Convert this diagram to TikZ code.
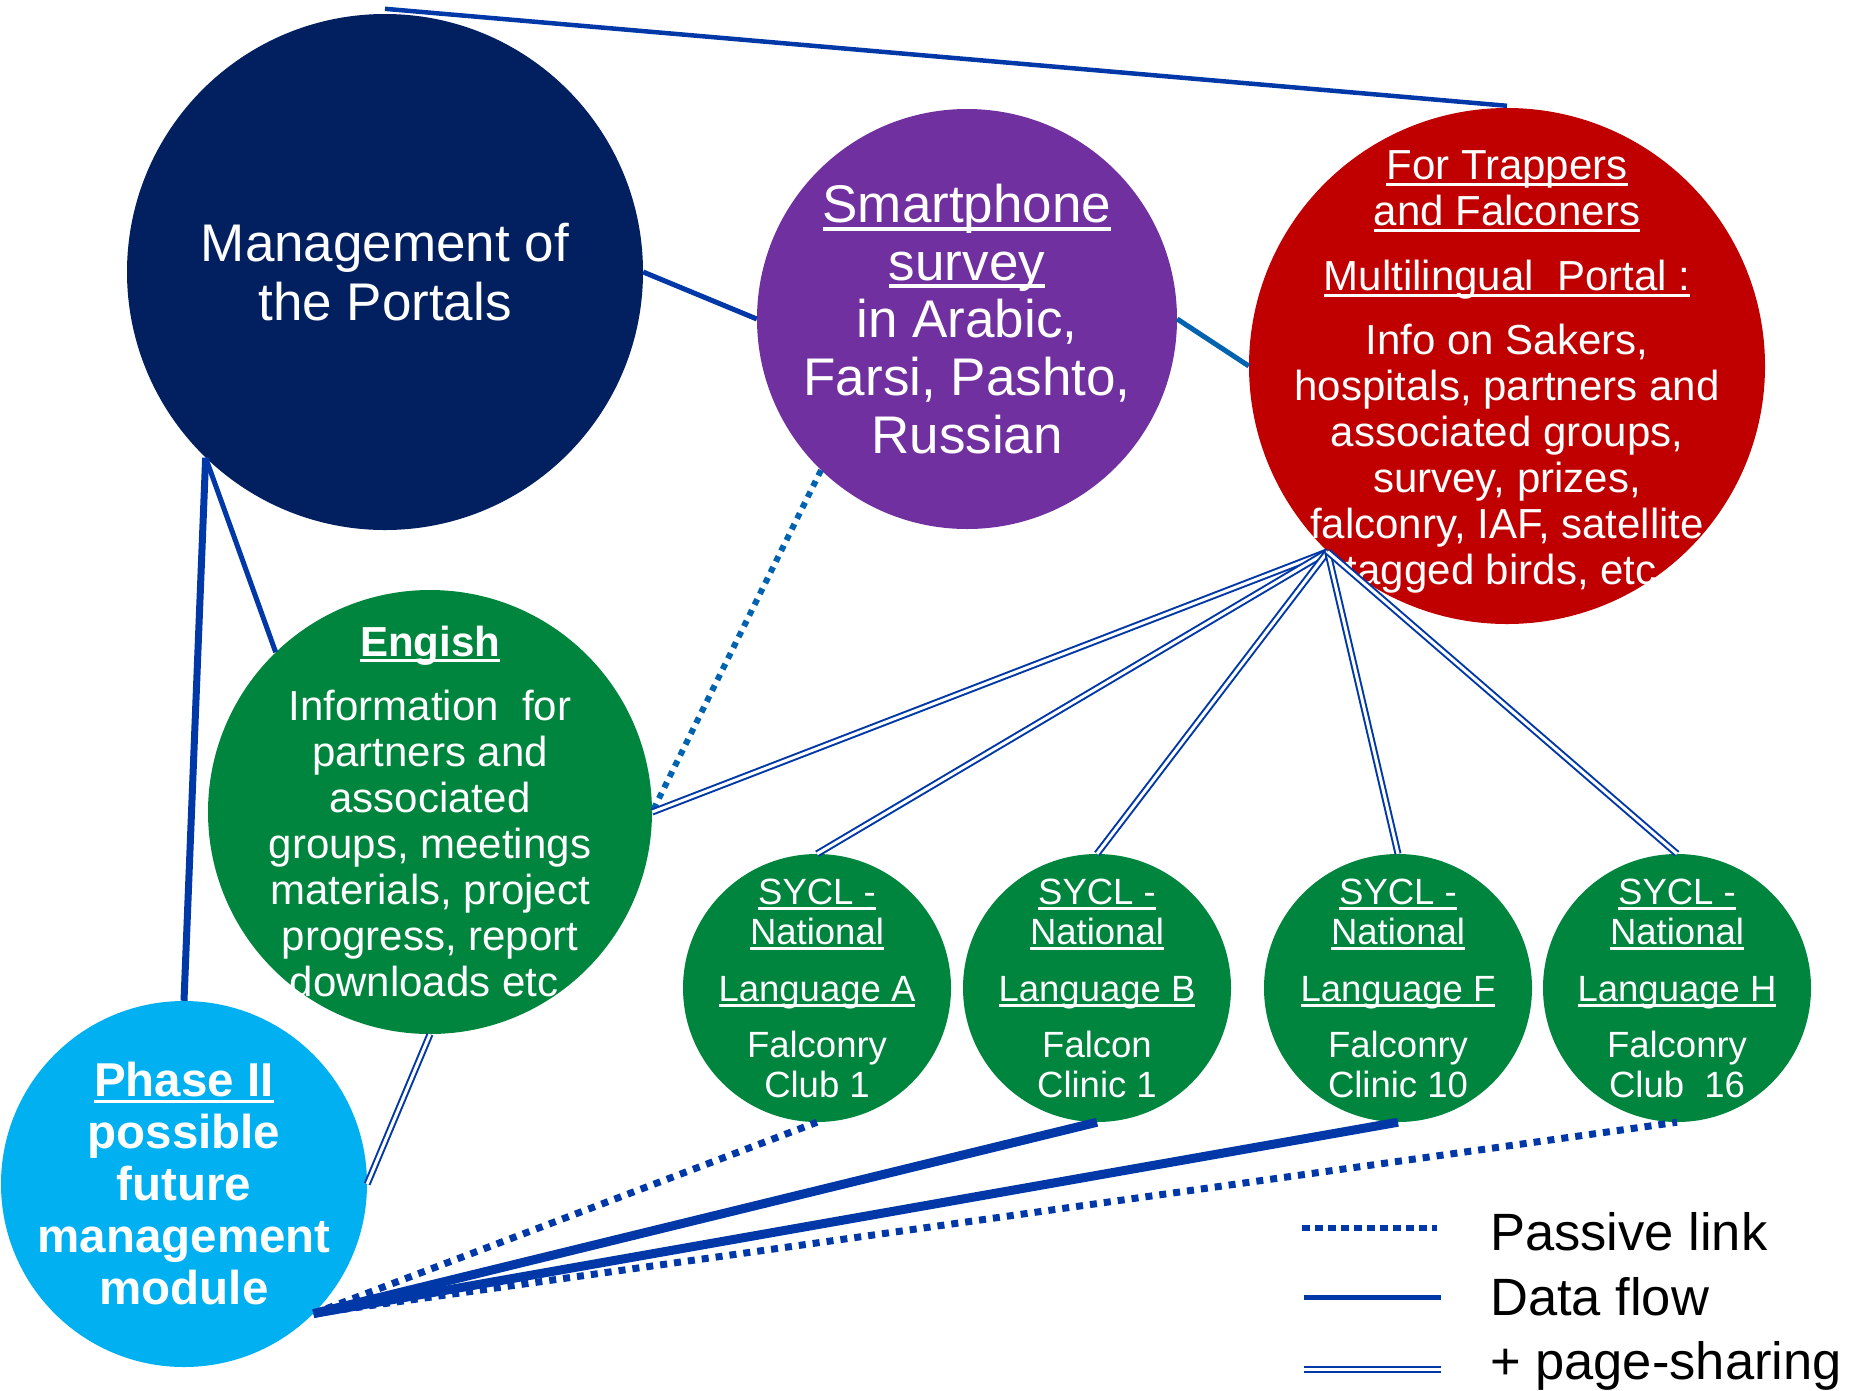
\documentclass[tikz,border=0pt]{standalone}
\usepackage{fontspec}
\setmainfont{Liberation Sans}
\definecolor{cNavy}{HTML}{022060}
\definecolor{cPurple}{HTML}{7030A0}
\definecolor{cRed}{HTML}{C00000}
\definecolor{cGreen}{HTML}{00853E}
\definecolor{cCyan}{HTML}{00B0F0}
\definecolor{cLine}{HTML}{0038A8}
\definecolor{cSteel}{HTML}{0063B0}
\newcommand\myul[1]{\leavevmode\setbox0=\hbox{#1}\rlap{\rule[-0.15em]{\wd0}{0.075em}}\box0}
\tikzset{
  circ/.style={circle, inner sep=0pt, draw=none},
  lbl/.style={text=white, align=center, inner sep=0pt},
  flow/.style={draw=cLine, line width=5pt},
  bigflow/.style={draw=cLine, line width=9pt},
  passive/.style={draw=cLine, line width=7pt, dash pattern=on 7pt off 7pt},
  share/.style={draw=cLine, double=white, line width=2pt, double distance=3pt},
  sycltxt/.style={lbl, font=\fontsize{36.5}{40}\selectfont},
  legtxt/.style={anchor=base west, inner sep=0pt, text=black, font=\fontsize{52.5}{60}\selectfont}
}
\begin{document}
\begin{tikzpicture}[x=1pt,y=-1pt]
\fill[white] (0,0) rectangle (1851,1390);
\useasboundingbox (0,0) rectangle (1851,1390);

% circles
\node[circ, fill=cNavy, minimum size=516pt] (mgmt) at (385,272) {};
\node[circ, fill=cPurple, minimum size=420pt] (smart) at (967,319) {};
\node[circ, fill=cRed, minimum size=516pt] (red) at (1507,366) {};
\node[circ, fill=cGreen, minimum size=444pt] (eng) at (430,812) {};
\node[circ, fill=cCyan, minimum size=366pt] (phase) at (184,1184) {};
\node[circ, fill=cGreen, minimum size=268pt] (A) at (817,988) {};
\node[circ, fill=cGreen, minimum size=268pt] (B) at (1097,988) {};
\node[circ, fill=cGreen, minimum size=268pt] (F) at (1398,988) {};
\node[circ, fill=cGreen, minimum size=268pt] (H) at (1677,988) {};

% texts
\node[lbl, font=\fontsize{53}{59}\selectfont] (mgmtT) at (385,272) {Management of\\the Portals};
\node[lbl, font=\fontsize{53}{57.6}\selectfont] (smartT) at (967,319) {\myul{Smartphone}\\\myul{survey}\\in Arabic,\\Farsi, Pashto,\\Russian};
\node[lbl, font=\fontsize{42}{46}\selectfont] (redT) at (1507,372) {\myul{For Trappers}\\\myul{and Falconers}\\[19pt]\myul{Multilingual\ \ Portal :}\\[18pt]Info on Sakers,\\hospitals, partners and\\associated groups,\\survey, prizes,\\falconry, IAF, satellite\\tagged birds, etc.};
\node[lbl, font=\fontsize{42}{46}\selectfont] (engT) at (430,811) {\textbf{\myul{Engish}}\\[18pt]Information\ \ for\\partners and\\associated\\groups, meetings\\materials, project\\progress, report\\downloads etc.};
\node[lbl, font=\fontsize{47.5}{52}\selectfont\bfseries] (phaseT) at (184,1183) {\myul{Phase II}\\possible\\future\\management\\module};
\node[sycltxt] (AT) at (817,988) {\myul{SYCL -}\\\myul{National}\\[17pt]\myul{Language A}\\[16pt]Falconry\\Club 1};
\node[sycltxt] (BT) at (1097,988) {\myul{SYCL -}\\\myul{National}\\[17pt]\myul{Language B}\\[16pt]Falcon\\Clinic 1};
\node[sycltxt] (FT) at (1398,988) {\myul{SYCL -}\\\myul{National}\\[17pt]\myul{Language F}\\[16pt]Falconry\\Clinic 10};
\node[sycltxt] (HT) at (1677,988) {\myul{SYCL -}\\\myul{National}\\[17pt]\myul{Language H}\\[16pt]Falconry\\Club\ \ 16};

% connectors
\draw[flow, line width=4.5pt] ([yshift=5pt]mgmt.north) -- ([yshift=2pt]red.north);
\draw[flow] (mgmt.east) -- (smart.west);
\draw[flow, draw=cSteel] (smart.east) -- (red.west);
\draw[flow] (mgmt.226) -- (eng.134);
\draw[flow, line width=7pt] (mgmt.226) -- (phase.north);
\draw[passive, draw=cSteel, line width=6pt, dash pattern=on 6pt off 6pt] (smart.226) -- (eng.east);
\draw[share] (eng.south) -- (phase.east);
\foreach \t in {eng.east, A.north, B.north, F.north, H.north}
  \draw[share] (red.226) -- (\t);
\draw[passive] (phase.-45) -- (A.south);
\draw[bigflow] (phase.-45) -- (B.south);
\draw[bigflow] (phase.-45) -- (F.south);
\draw[passive] (phase.-45) -- (H.south);

% legend
\coordinate (lg1a) at (1302,1228);
\coordinate (lg1b) at (1437,1228);
\coordinate (lg2a) at (1304,1297);
\coordinate (lg2b) at (1441,1297);
\coordinate (lg3a) at (1304,1369);
\coordinate (lg3b) at (1441,1369);
\draw[passive, line width=6pt, dash pattern=on 8pt off 5pt] (lg1a) -- (lg1b);
\draw[flow] (lg2a) -- (lg2b);
\draw[share] (lg3a) -- (lg3b);
\node[legtxt] (lgt1) at (1490,1250) {Passive link};
\node[legtxt] (lgt2) at (1490,1315) {Data flow};
\node[legtxt] (lgt3) at (1490,1379) {+ page-sharing};
\end{tikzpicture}
\end{document}
